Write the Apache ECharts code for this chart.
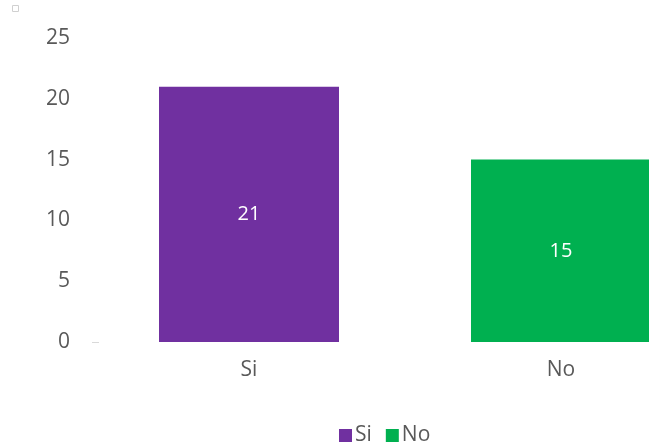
<!DOCTYPE html>
<html><head><meta charset="utf-8">
<script src="https://cdn.jsdelivr.net/npm/echarts@6/dist/echarts.min.js"></script>
<style>html,body{margin:0;padding:0;background:#fff;overflow:hidden}#c{width:717px;height:445px}</style>
</head><body><div id="c"></div>
<script>
const categories = ['Si', 'No'];
const siValues = [21, '-'];
const noValues = ['-', 15];
const seriesNames = ['Si', 'No'];
const colors = ['#7030A0', '#00B050'];
const FONT = '"Open Sans", "Noto Sans", sans-serif';
const chart = echarts.init(document.getElementById('c'), null, {renderer: 'canvas'});
chart.setOption({
  animation: false,
  color: colors,
  grid: {left: 93, right: 0, top: 38, bottom: 103, containLabel: false},
  xAxis: {
    type: 'category', data: categories,
    axisLine: {show: false}, axisTick: {show: false},
    axisLabel: {color: '#595959', fontSize: 21, fontFamily: FONT, margin: 18}
  },
  yAxis: {
    type: 'value', min: 0, max: 25, interval: 5,
    splitLine: {show: false}, axisLine: {show: false}, axisTick: {show: false},
    axisLabel: {color: '#595959', fontSize: 21, fontFamily: FONT, margin: 23}
  },
  legend: {
    top: 420, left: 334, itemWidth: 13, itemHeight: 13, itemGap: 14,
    icon: 'rect', data: seriesNames,
    textStyle: {color: '#595959', fontSize: 21, fontFamily: FONT, padding: [0,0,0,-2]}
  },
  series: [
    {name: seriesNames[0], type: 'bar', data: siValues, barWidth: 180, barGap: '-100%',
     label: {show: true, position: 'inside', color: '#fff', fontSize: 20, fontFamily: FONT}},
    {name: seriesNames[1], type: 'bar', data: noValues, barWidth: 180, barGap: '-100%',
     label: {show: true, position: 'inside', color: '#fff', fontSize: 20, fontFamily: FONT}}
  ],
  graphic: [
    {type: 'rect', shape: {x: 12.5, y: 5.5, width: 6, height: 6}, style: {fill: '#fff', stroke: '#d0d0d0', lineWidth: 1}},
    {type: 'line', shape: {x1: 92, y1: 342.5, x2: 99, y2: 342.5}, style: {stroke: '#d9d9d9', lineWidth: 1}}
  ]
});
</script></body></html>
